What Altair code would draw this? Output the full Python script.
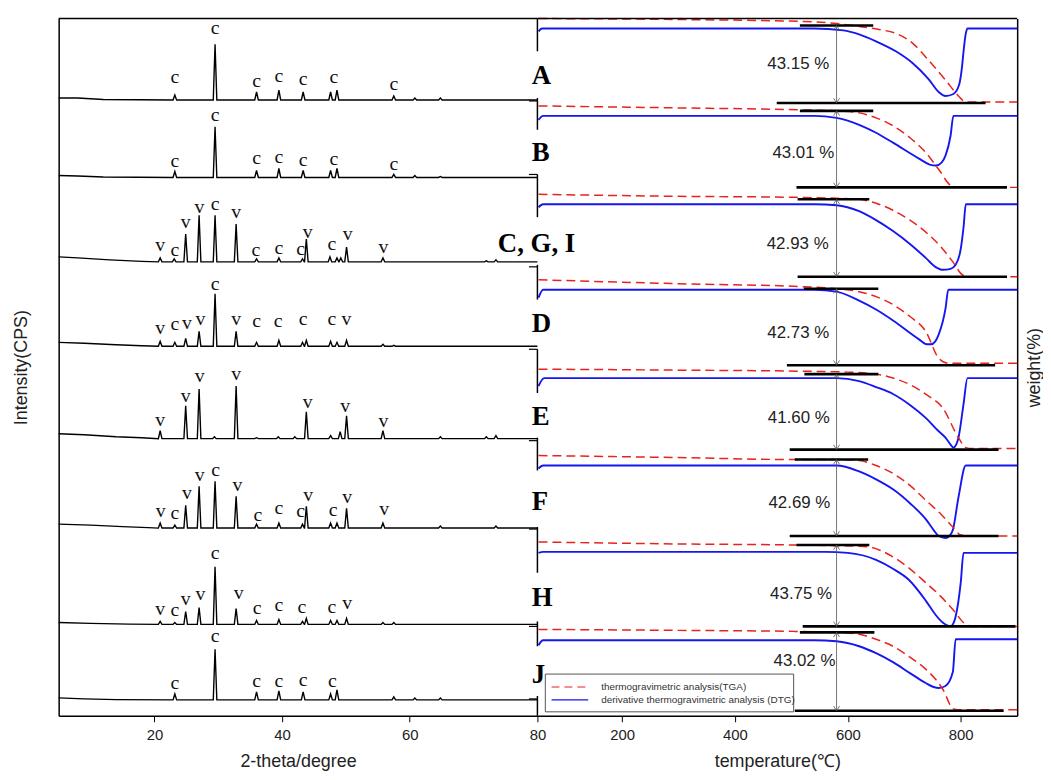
import altair as alt
import pandas as pd

# ---------------- XRD (left panel) ----------------
xrd_names = ["A", "B", "CGI", "D", "E", "F", "H", "J"]
# baseline of every pattern (height units above the plot bottom)
xrd_base = [620, 542, 457, 372, 279, 189, 92, 16]
# low-angle background readings (2-theta, level above baseline)
xrd_bg = [
    [(5, 2), (8, 2), (12, 0.5)],
    [(5, 2), (8, 1.5), (12, 0.5)],
    [(5, 5), (8, 4), (13, 2), (18, 0.5)],
    [(5, 4), (9, 3), (14, 1.5), (18, 0.5)],
    [(5, 5), (9, 4), (14, 2), (18, 1)],
    [(5, 4), (10, 3), (15, 1.5), (19, 0.5)],
    [(5, 2), (10, 1), (16, 0.3)],
    [(5, 2), (9, 1), (14, 0.3)],
]
# peaks (2-theta, height)
xrd_peaks = [
    [(23.2, 5), (29.5, 56), (36.0, 8), (39.5, 10), (43.3, 8), (47.6, 8), (48.6, 10), (57.5, 4), (60.8, 2), (64.8, 2)],
    [(23.2, 6), (29.5, 51), (36.0, 7), (39.5, 9), (43.3, 7), (47.6, 7), (48.6, 9), (57.5, 3), (60.8, 2), (64.8, 1)],
    [(20.9, 4), (23.1, 3), (24.9, 28), (27.0, 47), (29.5, 47), (32.8, 38), (36.0, 3), (39.5, 4), (43.2, 3), (43.8, 23),
     (47.5, 5), (48.6, 4), (49.2, 4), (50.1, 15), (55.8, 4), (72.0, 1), (73.5, 2)],
    [(20.9, 5), (23.2, 4), (24.9, 8), (27.0, 15), (29.5, 53), (32.8, 15), (36.0, 4), (39.5, 6), (43.2, 4), (43.8, 6),
     (47.6, 5), (48.6, 4), (50.1, 6), (55.8, 2), (57.5, 1)],
    [(20.9, 8), (24.9, 33), (27.0, 50), (29.4, 2), (32.8, 53), (36.0, 1), (39.4, 2), (42.0, 2), (43.8, 27), (47.6, 3),
     (49.1, 7), (50.1, 23), (55.8, 8), (64.8, 2), (72.0, 2), (73.5, 3)],
    [(20.9, 5), (23.2, 3), (24.9, 23), (27.0, 42), (29.5, 47), (32.8, 32), (36.0, 4), (39.5, 5), (43.2, 4), (43.8, 22),
     (47.6, 5), (48.6, 5), (50.1, 20), (55.8, 5), (64.8, 2), (73.5, 2)],
    [(20.9, 3), (23.2, 2), (24.9, 13), (27.0, 17), (29.5, 58), (32.8, 16), (36.0, 4), (39.5, 5), (43.2, 3), (43.8, 6),
     (47.6, 4), (48.6, 4), (50.1, 6), (55.8, 2), (57.5, 2)],
    [(23.2, 6), (29.5, 51), (36.0, 8), (39.5, 9), (43.3, 8), (47.6, 6), (48.6, 10), (57.5, 3), (60.8, 2), (64.8, 2)],
]
# phase labels (2-theta, height above baseline, text)
xrd_labels = [
    [(23.2, 23, "c"), (29.5, 72, "c"), (36.0, 19, "c"), (39.5, 24, "c"), (43.3, 21, "c"), (48.1, 23, "c"), (57.5, 16, "c")],
    [(23.2, 17, "c"), (29.5, 63, "c"), (36.0, 20, "c"), (39.5, 21, "c"), (43.3, 18, "c"), (48.1, 19, "c"), (57.5, 13, "c")],
    [(20.9, 17, "v"), (23.2, 12, "c"), (24.9, 40, "v"), (27.05, 55, "v"), (29.5, 58, "c"), (32.8, 50, "v"), (35.9, 12, "c"),
     (39.5, 14, "c"), (42.9, 13, "c"), (44.0, 30, "v"), (47.8, 18, "c"), (50.3, 28, "v"), (55.9, 15, "v")],
    [(20.9, 18, "v"), (23.2, 22, "c"), (25.1, 23, "v"), (27.2, 27, "v"), (29.5, 63, "c"), (32.8, 27, "v"), (36.0, 25, "c"),
     (39.4, 25, "c"), (43.3, 27, "c"), (47.8, 27, "c"), (50.1, 27, "v")],
    [(20.9, 19, "v"), (24.9, 43, "v"), (27.1, 63, "v"), (32.8, 65, "v"), (44.0, 37, "v"), (49.9, 33, "v"), (55.9, 18, "v")],
    [(21.0, 17, "v"), (23.2, 15, "c"), (25.1, 35, "v"), (27.1, 53, "v"), (29.6, 58, "c"), (33.0, 43, "v"), (36.2, 13, "c"),
     (39.5, 20, "c"), (42.9, 17, "c"), (44.1, 33, "v"), (48.0, 18, "c"), (50.2, 31, "v"), (56.0, 19, "v")],
    [(20.9, 15, "v"), (23.2, 14, "c"), (24.9, 26, "v"), (27.2, 31, "v"), (29.5, 72, "c"), (33.2, 32, "v"), (36.1, 16, "c"),
     (39.5, 20, "c"), (43.1, 17, "c"), (47.8, 17, "c"), (50.2, 22, "v")],
    [(23.2, 17, "c"), (29.5, 64, "c"), (36.0, 19, "c"), (39.5, 19, "c"), (43.3, 20, "c"), (47.9, 19, "c")],
]
xrd_ticks = [20, 40, 60, 80]

# ---------------- TGA / DTG (right panel) ----------------
strips = ["A", "B", "C, G, I", "D", "E", "F", "H", "J"]
strip_base = [617, 532, 442, 353, 268, 181, 90, 5]
tga_T = [
    [52, 300, 522, 580, 620, 655, 685, 715, 743, 773, 796, 805, 812, 900],
    [52, 300, 522, 580, 620, 650, 680, 710, 738, 761, 782, 792, 900],
    [52, 300, 504, 580, 620, 650, 680, 710, 738, 765, 786, 803, 815, 900],
    [52, 300, 522, 580, 620, 650, 680, 710, 738, 761, 777, 790, 900],
    [52, 300, 509, 600, 650, 680, 708, 740, 768, 796, 809, 820, 900],
    [52, 300, 504, 580, 620, 650, 680, 710, 738, 765, 786, 800, 812, 900],
    [52, 300, 504, 600, 638, 660, 680, 710, 738, 765, 786, 809, 820, 900],
    [52, 300, 504, 580, 620, 650, 680, 710, 738, 768, 787, 800, 900],
]
tga_w = [
    [85, 84, 82, 80, 77, 74, 70, 60, 43, 23, 7, 2, 1, 1],
    [82, 80, 78, 77, 75, 70, 62, 50, 35, 18, 2, 0, 0],
    [83, 81, 80, 79, 78, 74, 67, 57, 45, 30, 15, 2, 0, 0],
    [86, 82, 79, 77, 74, 69, 61, 49, 34, 7, 2, 2, 2],
    [81, 80, 79, 78, 76, 72, 66, 55, 42, 12, 2, 1, 1],
    [81, 79, 77, 77, 76, 71, 63, 51, 36, 22, 9, 1, 0, 0],
    [85, 83, 82, 81, 80, 76, 70, 58, 44, 30, 17, 2, 0, 0],
    [82, 81, 80, 79, 77, 72, 65, 54, 42, 22, 2, 1, 1],
]
dtg_T = [
    [52, 58, 540, 592, 620, 650, 685, 715, 743, 761, 773, 787, 797, 802, 805, 809, 812, 900],
    [52, 60, 540, 580, 620, 650, 680, 726, 745, 756, 766, 773, 782, 787, 900],
    [52, 60, 540, 580, 620, 650, 680, 710, 738, 755, 768, 782, 791, 800, 805, 809, 900],
    [52, 60, 540, 580, 620, 650, 680, 726, 740, 747, 755, 761, 773, 778, 900],
    [52, 62, 540, 580, 620, 650, 680, 710, 738, 760, 773, 782, 787, 792, 796, 805, 812, 900],
    [52, 60, 540, 580, 620, 650, 680, 710, 738, 752, 761, 773, 780, 786, 796, 809, 900],
    [52, 60, 560, 600, 650, 680, 708, 738, 755, 768, 776, 782, 787, 791, 800, 805, 900],
    [52, 60, 540, 580, 620, 650, 680, 710, 738, 752, 761, 773, 786, 791, 900],
]
dtg_v = [
    [72, 75, 75, 73, 69, 62, 52, 40, 24, 11, 7, 9, 18, 35, 52, 70, 75, 75],
    [68, 72, 72, 70, 63, 55, 45, 29, 23, 22, 25, 32, 52, 72, 72],
    [70, 73, 73, 72, 66, 57, 46, 33, 19, 10, 7, 8, 12, 28, 50, 73, 73],
    [68, 76, 76, 74, 65, 56, 45, 26, 21, 21, 24, 31, 57, 76, 76],
    [64, 72, 72, 72, 69, 63, 56, 45, 32, 19, 12, 5, 2, 5, 12, 46, 72, 72],
    [68, 71, 71, 71, 65, 57, 47, 33, 17, 6, 0, -2, 0, 6, 39, 71, 71],
    [74, 75, 75, 74, 67, 58, 47, 26, 12, 4, 1, 0, 3, 10, 44, 74, 74],
    [66, 71, 71, 70, 65, 58, 49, 38, 28, 24, 23, 25, 39, 72, 72],
]
upper_level = [78, 77, 78, 77, 76, 77, 82, 79]
upper_T1 = [515, 515, 511, 522, 523, 506, 509, 515]
upper_T2 = [645, 645, 638, 654, 654, 636, 638, 647]
lower_T1 = [474, 509, 511, 492, 497, 497, 520, 506]
lower_T2 = [844, 882, 882, 861, 867, 867, 897, 876]
arrow_T = 580
loss_text = ["43.15 %", "43.01 %", "42.93 %", "42.73 %", "41.60 %", "42.69 %", "43.75 %", "43.02 %"]
loss_level = [39, 35, 33, 32, 32, 33, 33, 50]
loss_T = [567, 576, 566, 567, 568, 569, 572, 578]
letter_level = [27, 35, 33, 41, 33, 34, 29, 36]
# broken left axis of the stacked TGA layers (y ranges) and its small ticks
frame_segments = [(669, 702), (590, 622), (502, 545), (419, 454), (325, 369), (247, 280), (144, 190), (70, 95), (0, 20)]
frame_ticks = [619, 545, 452, 369, 277, 188, 90, 17]
temp_ticks = [200, 400, 600, 800]
legend_labels = ["thermogravimetric analysis(TGA)", "derivative thermogravimetric analysis (DTG)"]

RED = "#e8221e"
BLUE = "#1616f0"
SANS = "Liberation Sans"
SERIF = "Liberation Serif"
TXT = "#222222"

# ================= left chart =================
xs_l = alt.Scale(domain=[5, 80], nice=False, zero=False)
ys = alt.Scale(domain=[0, 702], nice=False, zero=False)
ax_l = alt.Axis(values=xrd_ticks, title="2-theta/degree", grid=False, format="d", domainColor="black",
                domainWidth=1.5, tickColor="black", tickSize=6, labelPadding=6, titlePadding=10,
                labelFlush=False, labelOverlap=False)
ay_l = alt.Axis(title="Intensity(CPS)", labels=False, ticks=False, grid=False, domainColor="black",
                domainWidth=1.5, titlePadding=28)


def LX(f):
    return alt.X(f, type="quantitative", scale=xs_l, axis=ax_l)


def LY(f):
    return alt.Y(f, type="quantitative", scale=ys, axis=ay_l)


W = 0.28
rows = []
for i, name in enumerate(xrd_names):
    pts = list(xrd_bg[i])
    for (p, h) in xrd_peaks[i]:
        pts += [(p - W, 0), (p, h), (p + W, 0)]
    pts.append((80, 0))
    pts.sort()
    for k, (x, h) in enumerate(pts):
        rows.append({"pattern": name, "x": x, "y": xrd_base[i] + h, "o": k})
df_xrd = pd.DataFrame(rows)

lab_rows = []
for i, name in enumerate(xrd_names):
    for (p, h, t) in xrd_labels[i]:
        lab_rows.append({"x": p, "y": xrd_base[i] + h, "t": t})
df_xlab = pd.DataFrame(lab_rows)

xrd_lines = alt.Chart(df_xrd).mark_line(color="black", strokeWidth=1.4).encode(
    x=LX("x"), y=LY("y"), detail="pattern:N", order="o:Q")
xrd_text = alt.Chart(df_xlab).mark_text(font=SERIF, fontSize=20, color="#111111", baseline="middle").encode(
    x=LX("x"), y=LY("y"), text="t:N")
top_l = alt.Chart(pd.DataFrame({"x": [5], "x2": [80], "y": [702]})).mark_rule(color="black", strokeWidth=1.5).encode(
    x=LX("x"), x2="x2:Q", y=LY("y"))

left = alt.layer(xrd_lines, xrd_text, top_l).properties(width=482, height=702)

# ================= right chart =================
xs_r = alt.Scale(domain=[50, 900], nice=False, zero=False)
ax_r = alt.Axis(values=temp_ticks, title="temperature(\u2103)", grid=False, format="d", domainColor="black",
                domainWidth=1.5, tickColor="black", tickSize=6, labelPadding=6, titlePadding=10,
                labelFlush=False, labelOverlap=False)
ay_r = alt.Axis(orient="right", title="weight(%)", labels=False, ticks=False, grid=False, domainColor="black",
                domainWidth=1.5, titleAngle=270, titleBaseline="top", titlePadding=8)


def RX(f):
    return alt.X(f, type="quantitative", scale=xs_r, axis=ax_r)


def RY(f):
    return alt.Y(f, type="quantitative", scale=ys, axis=ay_r)


tga_rows, dtg_rows = [], []
for i, s in enumerate(strips):
    for k, (t, v) in enumerate(zip(tga_T[i], tga_w[i])):
        tga_rows.append({"strip": s, "T": t, "y": strip_base[i] + v, "o": k})
    for k, (t, v) in enumerate(zip(dtg_T[i], dtg_v[i])):
        dtg_rows.append({"strip": s, "T": t, "y": strip_base[i] + v, "o": k})
df_tga = pd.DataFrame(tga_rows)
df_dtg = pd.DataFrame(dtg_rows)

bar_rows, arrow_rows, loss_rows, letter_rows = [], [], [], []
for i, s in enumerate(strips):
    b = strip_base[i]
    bar_rows.append({"T": upper_T1[i], "T2": upper_T2[i], "y": b + upper_level[i]})
    bar_rows.append({"T": lower_T1[i], "T2": lower_T2[i], "y": b})
    arrow_rows.append({"T": arrow_T, "y": b + upper_level[i], "y2": b})
    loss_rows.append({"T": loss_T[i], "y": b + loss_level[i], "t": loss_text[i]})
    letter_rows.append({"T": 40 if s != "C, G, I" else 117, "y": b + letter_level[i], "t": s,
                        "al": "left" if s != "C, G, I" else "right"})
df_bars = pd.DataFrame(bar_rows)
df_arrow = pd.DataFrame(arrow_rows)
df_loss = pd.DataFrame(loss_rows)
df_let = pd.DataFrame(letter_rows)

dtg_line = alt.Chart(df_dtg).mark_line(color=BLUE, strokeWidth=1.9, interpolate="monotone").encode(
    x=RX("T"), y=RY("y"), detail="strip:N", order="o:Q")
tga_line = alt.Chart(df_tga).mark_line(color=RED, strokeWidth=1.5, strokeDash=[9, 5], interpolate="monotone").encode(
    x=RX("T"), y=RY("y"), detail="strip:N", order="o:Q")
bars = alt.Chart(df_bars).mark_rule(color="black", strokeWidth=2.6).encode(x=RX("T"), x2="T2:Q", y=RY("y"))
arrows = alt.Chart(df_arrow).mark_rule(color="#555555", strokeWidth=0.8).encode(x=RX("T"), y=RY("y"), y2="y2:Q")
head_dn = alt.Chart(df_arrow).mark_point(shape="M-1,-1.6L0,0L1,-1.6", filled=False, size=36, color="#555555",
                                         strokeWidth=0.8, opacity=1).encode(x=RX("T"), y=RY("y2"))
head_up = alt.Chart(df_arrow).mark_point(shape="M-1,1.6L0,0L1,1.6", filled=False, size=36, color="#555555",
                                         strokeWidth=0.8, opacity=1).encode(x=RX("T"), y=RY("y"))
loss = alt.Chart(df_loss).mark_text(font=SANS, fontSize=17, color=TXT, align="right", baseline="middle").encode(
    x=RX("T"), y=RY("y"), text="t:N")
let_left = alt.Chart(df_let[df_let["al"] == "left"]).mark_text(
    font=SERIF, fontSize=27, fontWeight="bold", color="black", align="left", baseline="middle").encode(
    x=RX("T"), y=RY("y"), text="t:N")
let_right = alt.Chart(df_let[df_let["al"] == "right"]).mark_text(
    font=SERIF, fontSize=27, fontWeight="bold", color="black", align="right", baseline="middle").encode(
    x=RX("T"), y=RY("y"), text="t:N")

top_r = alt.Chart(pd.DataFrame({"T": [50], "T2": [900], "y": [702]})).mark_rule(color="black", strokeWidth=1.5).encode(
    x=RX("T"), x2="T2:Q", y=RY("y"))
seg_df = pd.DataFrame({"T": [50] * len(frame_segments), "y": [a for a, b in frame_segments],
                       "y2": [b for a, b in frame_segments]})
segs = alt.Chart(seg_df).mark_rule(color="black", strokeWidth=1.5).encode(x=RX("T"), y=RY("y"), y2="y2:Q")
tick_df = pd.DataFrame({"T": [35] * len(frame_ticks), "T2": [50] * len(frame_ticks), "y": frame_ticks})
fticks = alt.Chart(tick_df).mark_rule(color="black", strokeWidth=1.2).encode(x=RX("T"), x2="T2:Q", y=RY("y"))

# legend box (drawn inside the bottom layer)
leg_box = alt.Chart(pd.DataFrame({"T": [64], "T2": [504], "y": [4], "y2": [42]})).mark_rect(
    fill="white", stroke="#555555", strokeWidth=1).encode(x=RX("T"), x2="T2:Q", y=RY("y"), y2="y2:Q")
leg_tga = alt.Chart(pd.DataFrame({"T": [75], "T2": [140], "y": [29]})).mark_rule(
    color=RED, strokeWidth=1.2, strokeDash=[8, 5]).encode(x=RX("T"), x2="T2:Q", y=RY("y"))
leg_dtg = alt.Chart(pd.DataFrame({"T": [75], "T2": [140], "y": [16]})).mark_rule(
    color=BLUE, strokeWidth=1.2).encode(x=RX("T"), x2="T2:Q", y=RY("y"))
leg_txt = alt.Chart(pd.DataFrame({"T": [163, 163], "y": [29, 16], "t": legend_labels})).mark_text(
    font=SANS, fontSize=10, color="#333333", align="left", baseline="middle").encode(
    x=RX("T"), y=RY("y"), text="t:N")

right = alt.layer(dtg_line, tga_line, bars, arrows, head_dn, head_up, loss, leg_box, leg_tga, leg_dtg, leg_txt,
                  top_r, segs, fticks, let_left, let_right).properties(width=483, height=702)

chart = alt.hconcat(left, right, spacing=0, bounds="flush").properties(
    padding={"left": 5, "top": 5, "right": 0, "bottom": 0}
).configure_view(stroke=None).configure_axis(
    labelFont=SANS, labelFontSize=15, labelColor=TXT, titleFont=SANS, titleFontSize=18,
    titleFontWeight="normal", titleColor=TXT
)

chart.save("out.html", embed_options={"renderer": "svg", "actions": False})
